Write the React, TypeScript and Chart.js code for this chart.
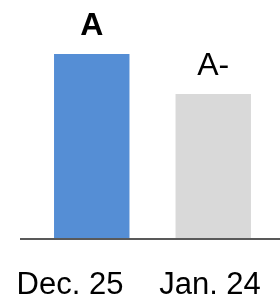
import React, { useEffect, useRef } from "react";
import { Chart, registerables } from "chart.js";

Chart.register(...registerables);

const categories = ["Dec. 25", "Jan. 24"];
const values = [100, 78.4];
const gradeLabels = ["A", "A-"];
const gradeBold = [true, false];
const barColors = ["#558ED5", "#D9D9D9"];

const FONT = "'Liberation Sans', Arial, sans-serif";

const labelPlugin = {
  id: "gradeLabels",
  afterDatasetsDraw(chart: any) {
    const ctx = chart.ctx;
    const meta = chart.getDatasetMeta(0);
    const area = chart.chartArea;
    ctx.save();
    // baseline axis line
    ctx.strokeStyle = "#595959";
    ctx.lineWidth = 2;
    ctx.beginPath();
    ctx.moveTo(area.left - 11, area.bottom);
    ctx.lineTo(chart.width, area.bottom);
    ctx.stroke();
    // grade labels above bars
    ctx.fillStyle = "#000000";
    ctx.textAlign = "center";
    ctx.textBaseline = "alphabetic";
    meta.data.forEach((bar: any, i: number) => {
      ctx.font = `${gradeBold[i] ? "bold " : ""}32px ${FONT}`;
      ctx.fillText(gradeLabels[i], bar.x, bar.y - 19);
    });
    // category labels, evenly spread across the full width
    ctx.font = `31px ${FONT}`;
    const n = categories.length;
    categories.forEach((c, i) => {
      ctx.fillText(c, (chart.width * (i + 0.5)) / n, area.bottom + 55);
    });
    ctx.restore();
  },
};

export default function App() {
  const ref = useRef<HTMLCanvasElement>(null);
  useEffect(() => {
    if (!ref.current) return;
    const chart = new Chart(ref.current, {
      type: "bar",
      data: {
        labels: categories,
        datasets: [
          {
            data: values,
            backgroundColor: barColors,
            borderWidth: 0,
            barPercentage: 0.621,
            categoryPercentage: 1,
          },
        ],
      },
      options: {
        animation: false,
        responsive: true,
        maintainAspectRatio: false,
        layout: { padding: { top: 54, left: 31, right: 6, bottom: 63 } },
        plugins: { legend: { display: false }, tooltip: { enabled: false } },
        scales: {
          x: { display: false },
          y: { display: false, min: 0, max: 100 },
        },
      },
      plugins: [labelPlugin],
    });
    return () => chart.destroy();
  }, []);
  return (
    <div style={{ position: "fixed", left: 0, top: 0, width: 280, height: 302, background: "#fff" }}>
      <canvas ref={ref} />
    </div>
  );
}
